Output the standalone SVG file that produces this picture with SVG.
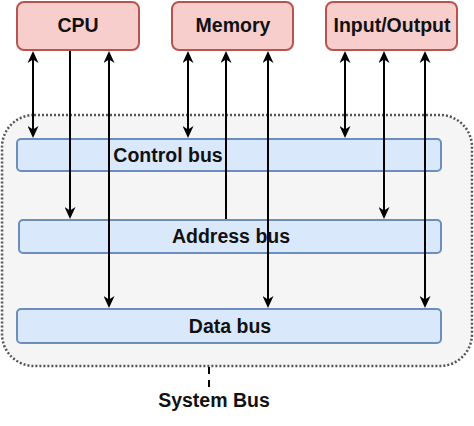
<svg xmlns="http://www.w3.org/2000/svg" width="474" height="426" viewBox="0 0 474 426">
<style>
.unit{fill:#f8cecc;stroke:#b85450;stroke-width:2}
.bus{fill:#dae8fc;stroke:#6c8ebf;stroke-width:2}
.lbl{font-family:"Liberation Sans",Arial,Helvetica,sans-serif;font-weight:bold;font-size:19.5px;fill:#111;text-anchor:middle}
.conn line{stroke:#000;stroke-width:2;fill:none}
</style>
<defs>
<marker id="ah" markerUnits="userSpaceOnUse" viewBox="0 0 12 11" refX="9" refY="5.5" markerWidth="12" markerHeight="11" orient="auto-start-reverse">
<path d="M0,0 L12,5.5 L0,11 L3.5,5.5 Z" fill="#000"/>
</marker>
</defs>
<g id="system-bus">
<rect x="2" y="115" width="470" height="251" rx="32" ry="32" fill="#f5f5f5" stroke="#555" stroke-width="2.5" stroke-dasharray="2 2"/>
<line x1="209" y1="367" x2="209" y2="389" stroke="#000" stroke-width="2" stroke-dasharray="7 6"/>
<text class="lbl" x="214" y="407">System Bus</text>
</g>
<g id="cpu">
<rect class="unit" x="17" y="2" width="122" height="48" rx="7"/>
<text class="lbl" x="78" y="32">CPU</text>
</g>
<g id="memory">
<rect class="unit" x="172" y="2" width="121" height="48" rx="7"/>
<text class="lbl" x="233" y="32">Memory</text>
</g>
<g id="io">
<rect class="unit" x="326" y="2" width="131" height="48" rx="7"/>
<text class="lbl" x="392" y="32">Input/Output</text>
</g>
<g id="control-bus">
<rect class="bus" x="17" y="139" width="424" height="32" rx="4"/>
<text class="lbl" x="168" y="162">Control bus</text>
</g>
<g id="address-bus">
<rect class="bus" x="19" y="220" width="422" height="33" rx="4"/>
<text class="lbl" x="231" y="243">Address bus</text>
</g>
<g id="data-bus">
<rect class="bus" x="17" y="309" width="424" height="34" rx="4"/>
<text class="lbl" x="230" y="333">Data bus</text>
</g>
<g id="connectors" class="conn">
<line x1="33" y1="54" x2="33" y2="135" marker-start="url(#ah)" marker-end="url(#ah)"/>
<line x1="70" y1="51" x2="70" y2="216" marker-end="url(#ah)"/>
<line x1="109" y1="54" x2="109" y2="305" marker-start="url(#ah)" marker-end="url(#ah)"/>
<line x1="188" y1="54" x2="188" y2="135" marker-start="url(#ah)" marker-end="url(#ah)"/>
<line x1="226" y1="219" x2="226" y2="54" marker-end="url(#ah)"/>
<line x1="268" y1="54" x2="268" y2="305" marker-start="url(#ah)" marker-end="url(#ah)"/>
<line x1="345" y1="54" x2="345" y2="135" marker-start="url(#ah)" marker-end="url(#ah)"/>
<line x1="384" y1="54" x2="384" y2="216" marker-start="url(#ah)" marker-end="url(#ah)"/>
<line x1="425" y1="54" x2="425" y2="305" marker-start="url(#ah)" marker-end="url(#ah)"/>
</g>
</svg>
